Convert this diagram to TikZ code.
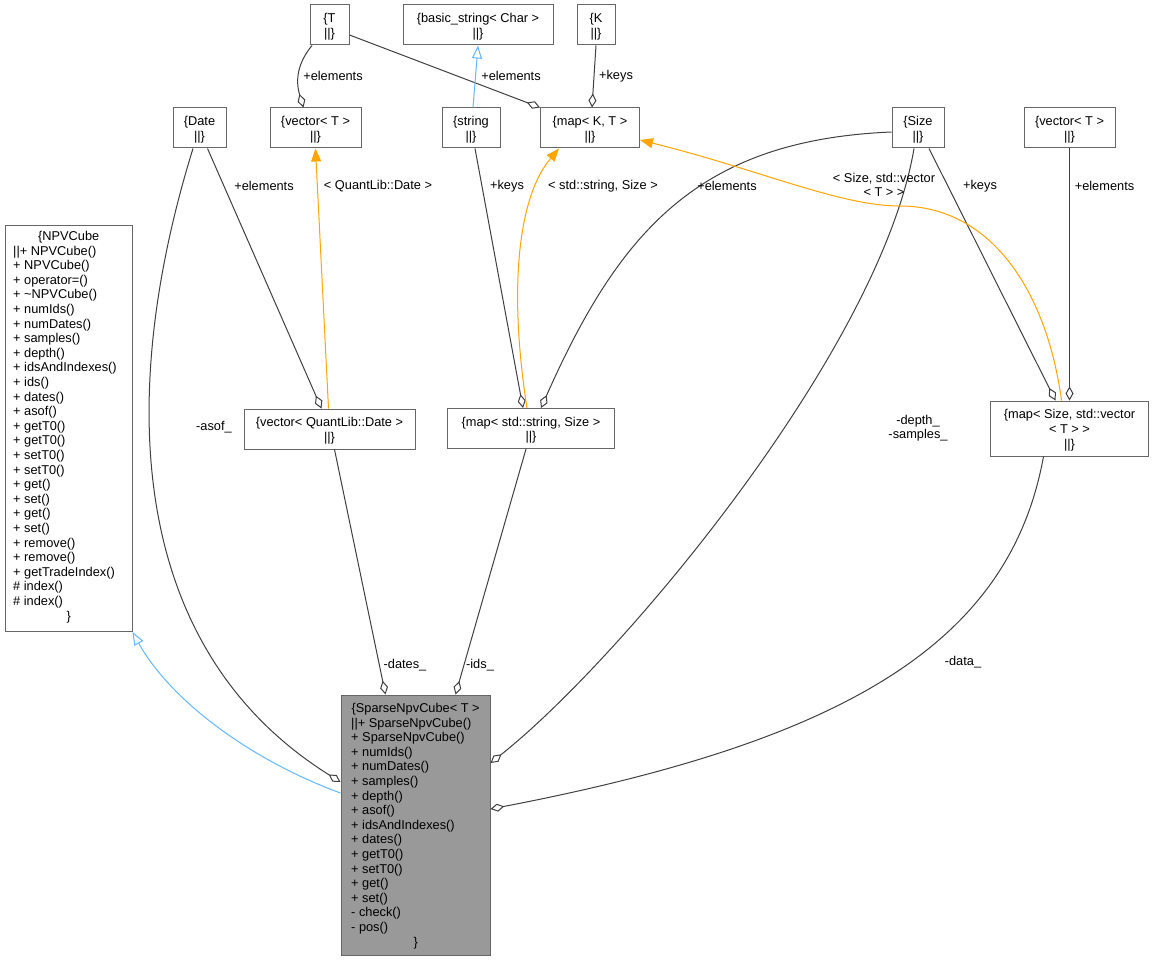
\documentclass[tikz,border=0pt]{standalone}
\usepackage{fontspec}
\setmainfont{Liberation Sans}
\usetikzlibrary{arrows.meta,calc}
\definecolor{edgegray}{HTML}{404040}
\definecolor{boxgray}{HTML}{666666}
\definecolor{sparsefill}{HTML}{999999}
\definecolor{tmplorange}{HTML}{FFA500}
\definecolor{inhblue}{HTML}{63B8FF}
\newcommand{\boxstrut}{\rule{0pt}{12.8pt}}
\begin{document}
\begin{tikzpicture}[x=1pt,y=-1pt,
  every node/.style={font=\fontsize{12.8}{14.6}\selectfont, inner sep=0pt},
  cls/.style={draw=boxgray, line width=1pt, fill=white, align=center, minimum height=40pt},
  agg/.style={draw=edgegray, line width=1pt, -{Diamond[fill=white,length=14pt,width=8pt]}},
  tmpl/.style={draw=tmplorange, line width=1pt, -{Triangle[length=13pt,width=10pt,fill=tmplorange]}},
  inh/.style={draw=inhblue, line width=1pt, -{Triangle[fill=white,length=13pt,width=10pt]}},
  lbl/.style={align=center}
]
\useasboundingbox[fill=white] (0,0) rectangle (1154,960);

% ---- class boxes ----
\node[cls, minimum width=39pt]  (T)      at (329.5,25)  {\boxstrut\{T\\||\}};
\node[cls, minimum width=150pt] (basic)  at (478,25)    {\boxstrut\{basic\_string< Char >\\||\}};
\node[cls, minimum width=38pt]  (K)      at (596,25)    {\boxstrut\{K\\||\}};
\node[cls, minimum width=53pt]  (Date)   at (199.5,128) {\boxstrut\{Date\\||\}};
\node[cls, minimum width=91pt]  (vecTL)  at (315.5,128) {\boxstrut\{vector< T >\\||\}};
\node[cls, minimum width=58pt]  (string) at (471,128)   {\boxstrut\{string\\||\}};
\node[cls, minimum width=99pt]  (mapKT)  at (590,128)   {\boxstrut\{map< K, T >\\||\}};
\node[cls, minimum width=52pt]  (Size)   at (918,128)   {\boxstrut\{Size\\||\}};
\node[cls, minimum width=91pt]  (vecTR)  at (1069.5,128) {\boxstrut\{vector< T >\\||\}};
\node[cls, minimum width=171pt] (vecQLD) at (329.5,429) {\boxstrut\{vector< QuantLib::Date >\\||\}};
\node[cls, minimum width=167pt] (mapSS)  at (531,428.5) {\boxstrut\{map< std::string, Size >\\||\}};
\node[cls, minimum width=158pt, minimum height=55pt] (mapSV) at (1069.5,428.5) {\boxstrut\{map< Size, std::vector\\< T > >\\||\}};

\node[cls, minimum width=127pt, minimum height=406pt] (NPV) at (68.5,428.5) {};
\node[anchor=north west, align=left] (NPVtxt) at (13,231) {\makebox[111pt][c]{\{NPVCube}\\||+ NPVCube()\\+ NPVCube()\\+ operator=()\\+ \textasciitilde NPVCube()\\+ numIds()\\+ numDates()\\+ samples()\\+ depth()\\+ idsAndIndexes()\\+ ids()\\+ dates()\\+ asof()\\+ getT0()\\+ getT0()\\+ setT0()\\+ setT0()\\+ get()\\+ set()\\+ get()\\+ set()\\+ remove()\\+ remove()\\+ getTradeIndex()\\\# index()\\\# index()\\\makebox[111pt][c]{\}}};

\node[cls, fill=sparsefill, minimum width=149pt, minimum height=260pt] (Sparse) at (415.5,825) {};
\node[anchor=north west, align=left] (Sparsetxt) at (351,703) {\makebox[129pt][c]{\{SparseNpvCube< T >}\\||+ SparseNpvCube()\\+ SparseNpvCube()\\+ numIds()\\+ numDates()\\+ samples()\\+ depth()\\+ asof()\\+ idsAndIndexes()\\+ dates()\\+ getT0()\\+ setT0()\\+ get()\\+ set()\\- check()\\- pos()\\\makebox[129pt][c]{\}}};

% ---- connectors ----
\draw[agg] ([xshift=-17.5pt]T.south) .. controls +(-14,17) and +(-8.5,-28) .. ([xshift=-12pt]vecTL.north);
\draw[agg] ([yshift=-10pt]T.east) -- (mapKT.north west);
\draw[inh] ([xshift=2pt]string.north) -- (basic.south);
\draw[agg] (K.south) -- ([xshift=2pt]mapKT.north);
\draw[agg] ([xshift=-6.5pt]Date.south) .. controls +(-78,252) and +(-211,-132) .. ([yshift=43pt]Sparse.west);
\draw[agg] ([xshift=8pt]Date.south) -- ([xshift=-8pt]vecQLD.north);
\draw[tmpl] ([xshift=-1pt]vecQLD.north) -- (vecTL.south);
\draw[agg] ([xshift=4pt]string.south) -- ([xshift=-8pt]mapSS.north);
\draw[tmpl] ([xshift=-4pt]mapSS.north) .. controls +(-17,-108) and +(-44,52) .. ([xshift=-31pt]mapKT.south);
\draw[agg] ([yshift=-4pt]Size.west) .. controls +(-192,8) and +(79,-178) .. ([xshift=10pt]mapSS.north);
\draw[agg] ([xshift=-4pt]Size.south) .. controls +(-34,202) and +(130,-103) .. ([yshift=62pt]Sparse.east);
\draw[agg] ([xshift=11pt]Size.south) -- ([xshift=-14pt]mapSV.north);
\draw[agg] (vecTR.south) -- (mapSV.north);
\coordinate (bendSV) at (900,206);
\draw[tmpl] ([xshift=-8pt]mapSV.north) .. controls +(-15,-111) and +(90,0) .. (bendSV) .. controls +(-60,0) and +(120.5,30) .. ([yshift=-12pt]mapKT.east);
\draw[agg] ([xshift=-26pt]mapSV.south) .. controls +(-33.5,184) and +(360,-69) .. ([yshift=16pt]Sparse.east);
\draw[agg] ([xshift=5pt]vecQLD.south) -- ([xshift=-30pt]Sparse.north);
\draw[agg] ([xshift=-5pt]mapSS.south) -- ([xshift=40pt]Sparse.north);
\draw[inh] ([yshift=32pt]Sparse.west) .. controls +(-90,-33) and +(38,68.5) .. (NPV.south east);

% ---- labels ----
\node[lbl] (l1) at (333,76) {+elements};
\node[lbl] (l2) at (511,76) {+elements};
\node[lbl] (l3) at (616,76) {+keys};
\node[lbl] (l4) at (264,186) {+elements};
\node[lbl] (l5) at (378,186) {< QuantLib::Date >};
\node[lbl] (l6) at (507,186) {+keys};
\node[lbl] (l7) at (603,186) {< std::string, Size >};
\node[lbl] (l8) at (727,186) {+elements};
\node[lbl] (l9) at (884,185) {< Size, std::vector\\< T > >};
\node[lbl] (l10) at (980,186) {+keys};
\node[lbl] (l11) at (1104.5,186) {+elements};
\node[lbl] (l12) at (214,427) {-asof\_};
\node[lbl] (l13) at (918,428) {-depth\_\\-samples\_};
\node[lbl] (l14) at (405,665) {-dates\_};
\node[lbl] (l15) at (480,665) {-ids\_};
\node[lbl] (l16) at (963,662) {-data\_};
\end{tikzpicture}
\end{document}
